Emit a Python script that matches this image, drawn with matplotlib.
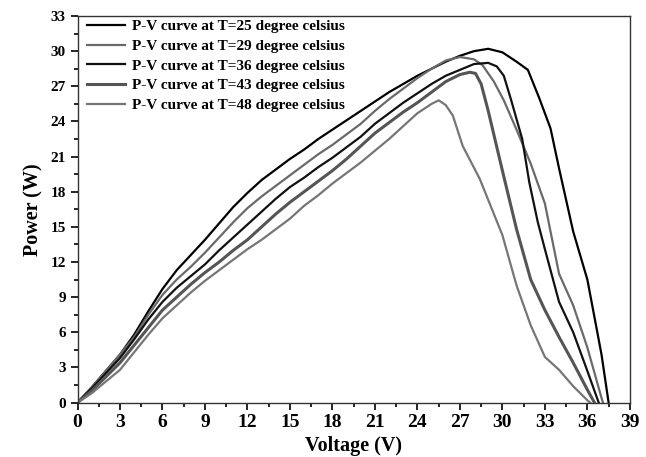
import matplotlib
matplotlib.use('Agg')
import matplotlib.pyplot as plt
from matplotlib.ticker import MultipleLocator

plt.rcParams['font.family'] = ['Liberation Serif', 'DejaVu Serif']
plt.rcParams['font.weight'] = 'bold'

# voltage / power samples, one pair of lists per temperature
v25 = [0, 1, 2, 3, 4, 5, 6, 7, 8, 9, 10, 11, 12, 13, 14, 15, 16, 17, 18, 19, 20,
       21, 22, 23, 24, 25, 26, 27, 28, 29, 30, 31, 31.8, 32.6, 33.4, 34, 35, 36, 37, 37.5]
p25 = [0, 1.3, 2.7, 4.1, 5.8, 7.8, 9.7, 11.3, 12.6, 13.9, 15.3, 16.7, 17.9, 19.0, 19.9, 20.8,
       21.6, 22.5, 23.3, 24.1, 24.9, 25.7, 26.5, 27.2, 27.9, 28.5, 29.1, 29.6, 30.0, 30.2,
       29.9, 29.1, 28.4, 26.0, 23.4, 20.0, 14.6, 10.5, 4.1, 0]

v29 = [0, 1, 2, 3, 4, 5, 6, 7, 8, 9, 10, 11, 12, 13, 14, 15, 16, 17, 18, 19, 20,
       21, 22, 23, 24, 25, 26, 27, 28, 28.6, 29.4, 30.1, 31, 32, 33, 34, 35, 36, 37, 37.1]
p29 = [0, 1.3, 2.7, 4.1, 5.6, 7.5, 9.2, 10.5, 11.6, 12.8, 14.1, 15.4, 16.6, 17.6, 18.5, 19.4,
       20.3, 21.2, 22.0, 22.9, 23.8, 24.9, 25.9, 26.8, 27.7, 28.5, 29.2, 29.5, 29.3, 28.8,
       27.4, 25.8, 23.3, 20.4, 17.0, 11.0, 8.3, 4.7, 0.4, 0]

v36 = [0, 1, 2, 3, 4, 5, 6, 7, 8, 9, 10, 11, 12, 13, 14, 15, 16, 17, 18, 19, 20,
       21, 22, 23, 24, 25, 26, 27, 28, 29, 29.6, 30.1, 30.6, 31.4, 31.9, 32.5, 33, 34, 35, 36, 36.8]
p36 = [0, 1.2, 2.5, 3.8, 5.4, 7.1, 8.6, 9.8, 10.8, 11.8, 13.0, 14.1, 15.2, 16.3, 17.4, 18.4,
       19.2, 20.1, 20.9, 21.8, 22.7, 23.8, 24.7, 25.6, 26.4, 27.2, 27.9, 28.4, 28.9, 29.0,
       28.7, 27.9, 25.9, 22.5, 18.8, 15.4, 13.1, 8.6, 6.0, 2.7, 0]

v43 = [0, 1, 2, 3, 4, 5, 6, 7, 8, 9, 10, 11, 12, 13, 14, 15, 16, 17, 18, 19, 20,
       21, 22, 23, 24, 25, 26, 27, 27.7, 28.1, 28.5, 29, 30, 31, 32, 33, 34, 35, 36, 36.5]
p43 = [0, 1.0, 2.2, 3.4, 4.9, 6.4, 7.9, 9.0, 10.1, 11.1, 12.0, 13.0, 13.9, 15.0, 16.1, 17.1,
       18.0, 18.9, 19.8, 20.8, 21.9, 23.0, 23.9, 24.8, 25.6, 26.5, 27.4, 28.0, 28.2, 28.1,
       27.2, 24.9, 19.8, 14.8, 10.5, 7.9, 5.6, 3.4, 1.1, 0]

v48 = [0, 1, 2, 3, 4, 5, 6, 7, 8, 9, 10, 11, 12, 13, 14, 15, 16, 17, 18, 19, 20,
       21, 22, 23, 24, 25, 25.5, 26, 26.5, 27.2, 28.4, 29.2, 30, 31, 32, 33, 34, 35, 36, 36.2]
p48 = [0, 0.8, 1.8, 2.8, 4.3, 5.8, 7.2, 8.3, 9.4, 10.4, 11.3, 12.2, 13.1, 13.9, 14.8, 15.7,
       16.8, 17.7, 18.7, 19.6, 20.5, 21.5, 22.5, 23.6, 24.7, 25.5, 25.8, 25.4, 24.5, 21.9,
       19.1, 16.7, 14.3, 10.0, 6.6, 3.9, 2.8, 1.4, 0.2, 0]

labels = ['P-V curve at T=25 degree celsius', 'P-V curve at T=29 degree celsius',
          'P-V curve at T=36 degree celsius', 'P-V curve at T=43 degree celsius',
          'P-V curve at T=48 degree celsius']

fig = plt.figure(figsize=(6.46, 4.57), dpi=100)
ax = fig.add_axes([0.120, 0.119, 0.855, 0.846])

ax.plot(v25, p25, color='#000000', lw=1.6, label=labels[0])
ax.plot(v29, p29, color='#6a6a6a', lw=1.6, label=labels[1])
ax.plot(v36, p36, color='#111111', lw=1.6, label=labels[2])
ax.plot(v43, p43, color='#555555', lw=2.2, label=labels[3])
ax.plot(v48, p48, color='#767676', lw=1.6, label=labels[4])

ax.set_xlim(0, 39)
ax.set_ylim(0, 33)
ax.xaxis.set_major_locator(MultipleLocator(3))
ax.xaxis.set_minor_locator(MultipleLocator(1.5))
ax.yaxis.set_major_locator(MultipleLocator(3))
ax.yaxis.set_minor_locator(MultipleLocator(1.5))
ax.tick_params(which='both', direction='out', top=False, right=False, width=1.2)
ax.tick_params(which='major', length=5)
ax.tick_params(which='minor', length=3)
ax.tick_params(axis='x', labelsize=14)
ax.tick_params(axis='y', labelsize=11)
for s in ax.spines.values():
    s.set_linewidth(1.0)
    s.set_color('#333333')

ax.set_xlabel('Voltage (V)', fontsize=14.5, fontweight='bold', labelpad=3)
ax.set_ylabel('Power (W)', fontsize=14.5, fontweight='bold', labelpad=5)

ax.legend(loc='upper left', bbox_to_anchor=(0.0, 1.015), frameon=False,
          fontsize=11, handlelength=2.5, handletextpad=0.45, labelspacing=0.4,
          borderaxespad=0.2)

fig.savefig('out.png', dpi=100)
